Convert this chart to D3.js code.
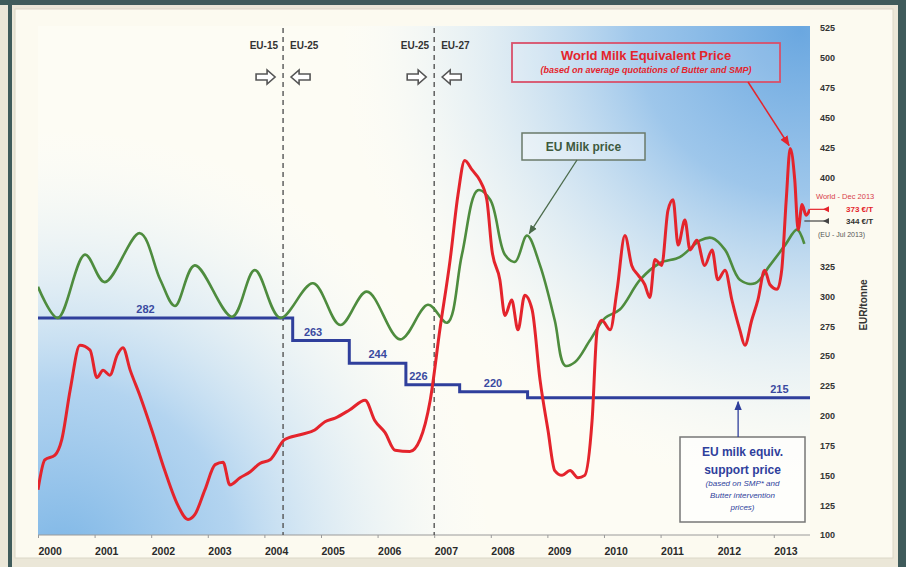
<!DOCTYPE html>
<html>
<head>
<meta charset="utf-8">
<script src="https://cdn.jsdelivr.net/npm/d3@7"></script>
<style>
  html, body { margin: 0; padding: 0; background: #ebe7d8; }
  svg { display: block; }
  text { font-family: "Liberation Sans", Arial, sans-serif; }
</style>
</head>
<body>
<svg id="chart" width="906" height="567"></svg>
<script>
// ---------- data ----------
const years = [2000, 2001, 2002, 2003, 2004, 2005, 2006, 2007, 2008, 2009, 2010, 2011, 2012, 2013];
const rightTicks = [100, 125, 150, 175, 200, 225, 250, 275, 300, 325, 400, 425, 450, 475, 500, 525];

// World milk equivalent price (EUR/t), decimal-year dates
const worldDates = [2000.00, 2000.12, 2000.30, 2000.42, 2000.57, 2000.74, 2000.92, 2001.04, 2001.15, 2001.27,
  2001.40, 2001.50, 2001.63, 2001.80, 2002.01, 2002.24, 2002.47, 2002.65, 2002.77, 2002.95,
  2003.13, 2003.27, 2003.39, 2003.57, 2003.75, 2003.92, 2004.10, 2004.36, 2004.63, 2004.89,
  2005.07, 2005.25, 2005.51, 2005.78, 2005.95, 2006.13, 2006.31, 2006.57, 2006.75, 2006.93,
  2007.10, 2007.28, 2007.42, 2007.54, 2007.67, 2007.81, 2007.93, 2008.02, 2008.16, 2008.25,
  2008.37, 2008.48, 2008.60, 2008.73, 2008.87, 2009.01, 2009.13, 2009.26, 2009.40, 2009.54,
  2009.66, 2009.79, 2009.88, 2009.96, 2010.11, 2010.23, 2010.37, 2010.49, 2010.60, 2010.72,
  2010.81, 2010.90, 2011.02, 2011.13, 2011.22, 2011.31, 2011.43, 2011.52, 2011.64, 2011.78,
  2011.91, 2012.01, 2012.14, 2012.26, 2012.40, 2012.49, 2012.61, 2012.72, 2012.84, 2012.93,
  2013.06, 2013.14, 2013.22, 2013.29, 2013.37, 2013.43, 2013.50, 2013.57, 2013.64];
const worldValues = [138, 163, 167, 180, 222, 259, 255, 232, 238, 234,
  251, 257, 238, 217, 188, 154, 125, 113, 117, 138,
  159, 161, 142, 148, 153, 160, 163, 180, 184, 188,
  195, 198, 205, 213, 196, 186, 171, 170, 180, 213,
  272, 330, 385, 414, 406, 397, 381, 339, 314, 284,
  297, 272, 301, 289, 230, 188, 154, 150, 154, 148,
  150, 196, 272, 280, 272, 305, 351, 326, 318, 310,
  299, 331, 326, 372, 381, 343, 364, 339, 347, 326,
  339, 314, 322, 297, 272, 259, 280, 297, 322, 310,
  306, 322, 381, 424, 398, 356, 377, 368, 373];

// EU milk price (EUR/t)
const euDates = [2000.00, 2000.35, 2000.83, 2001.18, 2001.80, 2002.16, 2002.42, 2002.77, 2003.43, 2003.83,
  2004.28, 2004.86, 2005.34, 2005.81, 2006.40, 2006.89, 2007.23, 2007.49, 2007.77, 2007.99,
  2008.25, 2008.43, 2008.64, 2008.87, 2009.13, 2009.31, 2009.49, 2009.75, 2010.02, 2010.28,
  2010.64, 2010.99, 2011.34, 2011.70, 2011.91, 2012.14, 2012.40, 2012.67, 2012.93, 2013.20,
  2013.41, 2013.54];
const euValues = [308, 282, 335, 312, 353, 314, 292, 326, 283, 322,
  282, 311, 276, 304, 264, 293, 278, 335, 389, 381,
  335, 329, 351, 326, 280, 242, 245, 263, 282, 289,
  314, 328, 333, 347, 349, 339, 314, 311, 326, 343,
  356, 344];

// EU milk equivalent support price: step start dates and levels
const supportDates = [2000.00, 2004.50, 2005.50, 2006.50, 2007.45, 2008.65];
const supportValues = [282, 263, 244, 226, 220, 215];
const seriesEnd = 2013.64;

// EU enlargement dates (May 2004, Jan 2007)
const enlargementDates = [2004.33, 2007.0];
const enlargementLabels = [["EU-15", "EU-25"], ["EU-25", "EU-27"]];

// ---------- layout ----------
const svg = d3.select("#chart");
const plot = { left: 38, right: 810, top: 26, bottom: 535 };

const x = d3.scaleLinear().domain([2000, seriesEnd]).range([plot.left, plot.right]);
const y = d3.scaleLinear().domain([100, 525]).range([535, 28]);

const RED = "#e4242c", GREEN = "#4e8c3e", BLUE = "#2f3f9c";

// ---------- defs ----------
const defs = svg.append("defs");
const g1 = defs.append("radialGradient").attr("id", "blueTR")
  .attr("gradientUnits", "userSpaceOnUse").attr("cx", 800).attr("cy", 30).attr("r", 470);
g1.append("stop").attr("offset", 0).attr("stop-color", "#6aa7e0").attr("stop-opacity", 1);
g1.append("stop").attr("offset", 0.35).attr("stop-color", "#8dbde9").attr("stop-opacity", 0.85);
g1.append("stop").attr("offset", 0.75).attr("stop-color", "#cfe4f5").attr("stop-opacity", 0.35);
g1.append("stop").attr("offset", 1).attr("stop-color", "#ffffff").attr("stop-opacity", 0);

const g2 = defs.append("radialGradient").attr("id", "blueBL")
  .attr("gradientUnits", "userSpaceOnUse").attr("cx", 60).attr("cy", 560).attr("r", 440);
g2.append("stop").attr("offset", 0).attr("stop-color", "#7db6e6").attr("stop-opacity", 1);
g2.append("stop").attr("offset", 0.4).attr("stop-color", "#a6cdef").attr("stop-opacity", 0.85);
g2.append("stop").attr("offset", 0.8).attr("stop-color", "#e0eef8").attr("stop-opacity", 0.3);
g2.append("stop").attr("offset", 1).attr("stop-color", "#ffffff").attr("stop-opacity", 0);

defs.append("clipPath").attr("id", "plotClip").append("rect")
  .attr("x", plot.left).attr("y", plot.top)
  .attr("width", plot.right - plot.left).attr("height", plot.bottom - plot.top);

function marker(id, color) {
  defs.append("marker").attr("id", id).attr("viewBox", "0 0 10 10")
    .attr("refX", 9).attr("refY", 5).attr("markerWidth", 7).attr("markerHeight", 7)
    .attr("orient", "auto-start-reverse")
    .append("path").attr("d", "M0,1 L10,5 L0,9 Z").attr("fill", color);
}
marker("arrRed", RED);
marker("arrGreen", "#4a6a4a");
marker("arrBlue", "#2f3f9c");

// ---------- frame ----------
svg.append("rect").attr("width", 906).attr("height", 567).attr("fill", "#ebe7d8");
svg.append("rect").attr("x", 0).attr("y", 0).attr("width", 906).attr("height", 5).attr("fill", "#3f5b5b");
svg.append("rect").attr("x", 8).attr("y", 0).attr("width", 4).attr("height", 567).attr("fill", "#3f5b5b");
svg.append("rect").attr("x", 898).attr("y", 0).attr("width", 8).attr("height", 567).attr("fill", "#3f5b5b");
svg.append("rect").attr("x", 15).attr("y", 9).attr("width", 878).attr("height", 549)
  .attr("fill", "#fcfaf0").attr("stroke", "#dcd8c8").attr("stroke-width", 1);

// plot background
svg.append("rect").attr("x", plot.left).attr("y", plot.top)
  .attr("width", plot.right - plot.left).attr("height", plot.bottom - plot.top).attr("fill", "#fdfcf4");
svg.append("rect").attr("x", plot.left).attr("y", plot.top)
  .attr("width", plot.right - plot.left).attr("height", plot.bottom - plot.top).attr("fill", "url(#blueBL)");
svg.append("rect").attr("x", plot.left).attr("y", plot.top)
  .attr("width", plot.right - plot.left).attr("height", plot.bottom - plot.top).attr("fill", "url(#blueTR)");

// ---------- axes ----------
const xAxis = d3.axisBottom(x).tickValues(years).tickSize(3).tickFormat(d3.format("d"));
svg.append("g").attr("transform", `translate(0,${plot.bottom})`).call(xAxis)
  .call(g => g.select(".domain").attr("stroke", "#9a9a9a").attr("d", `M${plot.left},0H${plot.right}`))
  .call(g => g.selectAll(".tick line").attr("stroke", "#9a9a9a"))
  .call(g => g.selectAll(".tick text")
    .attr("text-anchor", "start").attr("x", 0).attr("y", 13)
    .attr("font-family", "Liberation Sans, Arial, sans-serif")
    .attr("font-size", 10.5).attr("font-weight", "bold").attr("fill", "#2a2a2a"));

const yAxis = d3.axisRight(y).tickValues(rightTicks).tickSize(0).tickPadding(10);
svg.append("g").attr("transform", `translate(${plot.right},0)`).call(yAxis)
  .call(g => g.select(".domain").remove())
  .call(g => g.selectAll(".tick text")
    .attr("font-family", "Liberation Sans, Arial, sans-serif")
    .attr("font-size", 9).attr("font-weight", "bold").attr("fill", "#333"));

svg.append("text")
  .attr("transform", "translate(867,305) rotate(-90)")
  .attr("text-anchor", "middle").attr("font-size", 10).attr("font-weight", "bold").attr("fill", "#333")
  .text("EUR/tonne");

// ---------- enlargement markers ----------
const enl = svg.append("g");
enlargementDates.forEach((d, i) => {
  const xx = x(d);
  enl.append("line").attr("x1", xx).attr("x2", xx).attr("y1", plot.top + 2).attr("y2", plot.bottom)
    .attr("stroke", "#555").attr("stroke-width", 1.4).attr("stroke-dasharray", "5,4");
  enl.append("text").attr("x", xx - 5).attr("y", 49).attr("text-anchor", "end")
    .attr("font-size", 10).attr("font-weight", "bold").attr("fill", "#333").text(enlargementLabels[i][0]);
  enl.append("text").attr("x", xx + 7).attr("y", 49).attr("text-anchor", "start")
    .attr("font-size", 10).attr("font-weight", "bold").attr("fill", "#333").text(enlargementLabels[i][1]);
  // hollow arrows pointing at the dashed line
  const ay = 77;
  const right = `M${xx - 27},${ay - 3} h11 v-4 l8,7 l-8,7 v-4 h-11 Z`;
  const left = `M${xx + 27},${ay - 3} h-11 v-4 l-8,7 l8,7 v-4 h11 Z`;
  enl.append("path").attr("d", right).attr("fill", "#fff").attr("stroke", "#555").attr("stroke-width", 1.6);
  enl.append("path").attr("d", left).attr("fill", "#fff").attr("stroke", "#555").attr("stroke-width", 1.6);
});

// ---------- series ----------
const lines = svg.append("g").attr("clip-path", "url(#plotClip)");

const supportPts = supportDates.map((d, i) => [d, supportValues[i]]);
supportPts.push([seriesEnd, supportValues[supportValues.length - 1]]);
lines.append("path").datum(supportPts)
  .attr("d", d3.line().x(d => x(d[0])).y(d => y(d[1])).curve(d3.curveStepAfter))
  .attr("fill", "none").attr("stroke", BLUE).attr("stroke-width", 3);

const euPts = euDates.map((d, i) => [d, euValues[i]]);
lines.append("path").datum(euPts)
  .attr("d", d3.line().x(d => x(d[0])).y(d => y(d[1])).curve(d3.curveCatmullRom.alpha(0.5)))
  .attr("fill", "none").attr("stroke", GREEN).attr("stroke-width", 2.6);

const worldPts = worldDates.map((d, i) => [d, worldValues[i]]);
lines.append("path").datum(worldPts)
  .attr("d", d3.line().x(d => x(d[0])).y(d => y(d[1])).curve(d3.curveMonotoneX))
  .attr("fill", "none").attr("stroke", RED).attr("stroke-width", 3);

// support price level labels
const supportLabelAt = [2001.9, 2004.86, 2006.0, 2006.72, 2008.04, 2013.1];
supportValues.forEach((v, i) => {
  svg.append("text").attr("x", x(supportLabelAt[i])).attr("y", y(v) - 5)
    .attr("text-anchor", "middle").attr("font-size", 11).attr("font-weight", "bold")
    .attr("fill", "#3a4aa0").text(v);
});

// ---------- annotation boxes ----------
// World milk equivalent price
const wb = svg.append("g");
wb.append("rect").attr("x", 512).attr("y", 43).attr("width", 268).attr("height", 39)
  .attr("fill", "#ffffff").attr("fill-opacity", 0.15).attr("stroke", "#d9506a").attr("stroke-width", 1.8);
wb.append("text").attr("x", 646).attr("y", 60).attr("text-anchor", "middle")
  .attr("font-size", 13).attr("font-weight", "bold").attr("fill", RED).text("World Milk Equivalent Price");
wb.append("text").attr("x", 646).attr("y", 73).attr("text-anchor", "middle")
  .attr("font-size", 9).attr("font-weight", "bold").attr("font-style", "italic").attr("fill", RED)
  .text("(based on average quotations of Butter and SMP)");
wb.append("line").attr("x1", 748).attr("y1", 82).attr("x2", x(2013.27)).attr("y2", y(424) - 3)
  .attr("stroke", RED).attr("stroke-width", 1.5).attr("marker-end", "url(#arrRed)");

// EU milk price
const gb = svg.append("g");
gb.append("rect").attr("x", 522).attr("y", 133).attr("width", 123).attr("height", 27)
  .attr("fill", "#ffffff").attr("fill-opacity", 0.35).attr("stroke", "#6a7a6a").attr("stroke-width", 1.5);
gb.append("text").attr("x", 583.5).attr("y", 151).attr("text-anchor", "middle")
  .attr("font-size", 12).attr("font-weight", "bold").attr("fill", "#3e5a3e").text("EU Milk price");
gb.append("line").attr("x1", 577).attr("y1", 160).attr("x2", x(2008.68)).attr("y2", y(351) - 2)
  .attr("stroke", "#4a6a4a").attr("stroke-width", 1.3).attr("marker-end", "url(#arrGreen)");

// EU support price
const bb = svg.append("g");
bb.append("rect").attr("x", 680).attr("y", 437).attr("width", 125).attr("height", 85)
  .attr("fill", "#ffffff").attr("fill-opacity", 0.6).attr("stroke", "#777").attr("stroke-width", 1.5);
const bx = 742.5;
bb.append("text").attr("x", bx).attr("y", 456).attr("text-anchor", "middle")
  .attr("font-size", 12).attr("font-weight", "bold").attr("fill", "#2f3f9c").text("EU milk equiv.");
bb.append("text").attr("x", bx).attr("y", 474).attr("text-anchor", "middle")
  .attr("font-size", 12).attr("font-weight", "bold").attr("fill", "#2f3f9c").text("support price");
bb.append("text").attr("x", bx).attr("y", 486).attr("text-anchor", "middle")
  .attr("font-size", 8).attr("font-style", "italic").attr("fill", "#2f3f9c").text("(based on SMP* and");
bb.append("text").attr("x", bx).attr("y", 498).attr("text-anchor", "middle")
  .attr("font-size", 8).attr("font-style", "italic").attr("fill", "#2f3f9c").text("Butter intervention");
bb.append("text").attr("x", bx).attr("y", 510).attr("text-anchor", "middle")
  .attr("font-size", 8).attr("font-style", "italic").attr("fill", "#2f3f9c").text("prices)");
bb.append("line").attr("x1", x(2012.37)).attr("y1", 437).attr("x2", x(2012.37)).attr("y2", y(215) + 4)
  .attr("stroke", "#2f3f9c").attr("stroke-width", 1.3).attr("marker-end", "url(#arrBlue)");

// latest values
const lastWorld = worldValues[worldValues.length - 1];
const lastEU = euValues[euValues.length - 1];
const lv = svg.append("g");
lv.append("text").attr("x", 816).attr("y", 199).attr("font-size", 7.5).attr("fill", "#d8404a").text("World - Dec 2013");
lv.append("line").attr("x1", x(seriesEnd)).attr("y1", y(lastWorld)).attr("x2", 828).attr("y2", y(lastWorld))
  .attr("stroke", RED).attr("stroke-width", 1.2);
lv.append("path").attr("d", `M823,${y(lastWorld)} l6,-3 v6 Z`).attr("fill", RED);
lv.append("text").attr("x", 846).attr("y", y(lastWorld) + 3).attr("font-size", 8).attr("font-weight", "bold")
  .attr("fill", RED).text(`${lastWorld} €/T`);
lv.append("line").attr("x1", x(euDates[euDates.length - 1])).attr("y1", 221).attr("x2", 828).attr("y2", 221)
  .attr("stroke", "#444").attr("stroke-width", 1.2);
lv.append("path").attr("d", "M823,221 l6,-3 v6 Z").attr("fill", "#444");
lv.append("text").attr("x", 846).attr("y", 224).attr("font-size", 8).attr("font-weight", "bold")
  .attr("fill", "#333").text(`${lastEU} €/T`);
lv.append("text").attr("x", 818).attr("y", 237).attr("font-size", 7).attr("fill", "#555").text("(EU - Jul 2013)");
</script>
</body>
</html>
